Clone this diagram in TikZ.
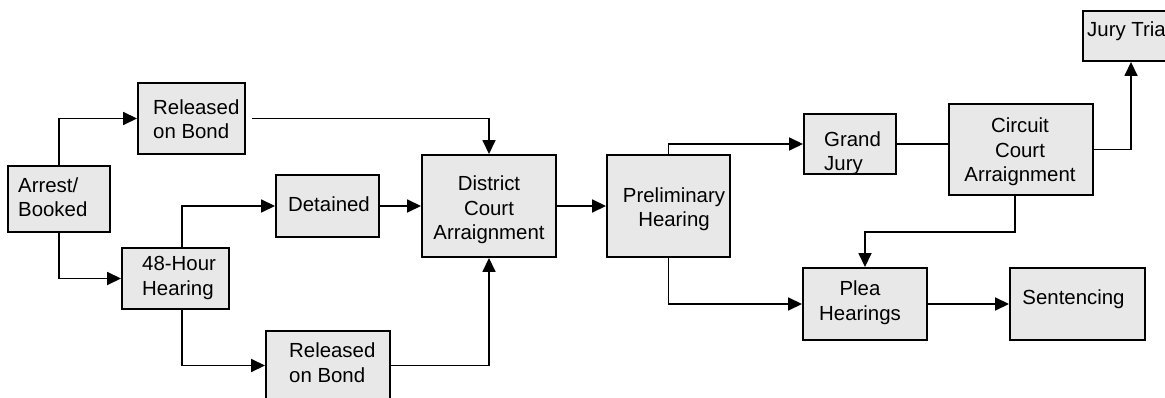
\documentclass[tikz,border=0pt]{standalone}
\usepackage{fontspec}
\setmainfont{Liberation Sans}
\usetikzlibrary{arrows.meta,calc}
\definecolor{boxgray}{RGB}{232,232,232}
\begin{document}
\begin{tikzpicture}[x=1pt,y=-1pt,
  box/.style={draw, line width=1.9pt, fill=boxgray, inner sep=0pt},
  txt/.style={font=\fontsize{20.4}{24.7}\selectfont, inner sep=0pt, align=left, anchor=base west},
  ctxt/.style={font=\fontsize{20.4}{24.7}\selectfont, inner sep=0pt, align=center, anchor=base},
  conn/.style={line width=1.6pt},
  arr/.style={conn, -{Triangle[length=14pt,width=13pt]}}]
\useasboundingbox (0,0) rectangle (1165,398);
% boxes
\node[box, minimum width=102pt, minimum height=66pt] (arrest) at (59,199) {};
\node[box, minimum width=107pt, minimum height=71pt] (relTop) at (191.5,118.5) {};
\node[box, minimum width=103pt, minimum height=62pt] (det) at (327.5,206) {};
\node[box, minimum width=107pt, minimum height=61pt] (h48) at (175.5,278.5) {};
\node[box, minimum width=124pt, minimum height=69pt] (relBot) at (328,365.5) {};
\node[box, minimum width=134pt, minimum height=102pt] (dist) at (489,206) {};
\node[box, minimum width=123pt, minimum height=102pt] (prelim) at (668.5,206) {};
\node[box, minimum width=92pt, minimum height=60pt] (gj) at (850,144) {};
\node[box, minimum width=144pt, minimum height=91pt] (circ) at (1021,149.5) {};
\node[box, minimum width=96pt, minimum height=50pt] (jury) at (1131,36) {};
\node[box, minimum width=124pt, minimum height=72pt] (plea) at (865,304) {};
\node[box, minimum width=135pt, minimum height=72pt] (sent) at (1077.5,304) {};
% texts (anchored at the baseline of the last line)
\node[txt] (tArrest) at (18,217) {Arrest/\\Booked};
\node[txt] (tRelTop) at (153,139) {Released\\on Bond};
\node[txt] (tH48) at (142,295) {48-Hour\\Hearing};
\node[txt] (tRelBot) at (289,382) {Released\\on Bond};
\node[ctxt] (tDet) at (329,212) {Detained};
\node[ctxt] (tDist) at (489,240) {District\\Court\\Arraignment};
\node[ctxt] (tPrelim) at (674,227) {Preliminary\\Hearing};
\node[txt] (tGj) at (824,171) {Grand\\Jury};
\node[ctxt] (tCirc) at (1020,182) {Circuit\\Court\\Arraignment};
\node[txt] (tJury) at (1087,37) {Jury Trial};
\node[ctxt] (tPlea) at (860,320) {Plea\\Hearings};
\node[ctxt] (tSent) at (1073.5,305) {Sentencing};
% helper coordinates
\coordinate (h48top) at (182,248);
\coordinate (h48bot) at (182,309);
\coordinate (circbot) at (1015,195);
% connectors
\draw[arr] (arrest.north) |- (relTop.west);
\draw[arr] (arrest.south) |- (h48.west);
\draw[arr] (h48top) |- (det.west);
\draw[arr] (h48bot) |- (relBot.west);
\draw[arr] (relBot.east) -| (dist.south);
\draw[arr] ([xshift=6pt]relTop.east) -| (dist.north);
\draw[arr] (det.east) -- (dist.west);
\draw[arr] (dist.east) -- (prelim.west);
\draw[arr] (prelim.north) |- (gj.west);
\draw[conn] (gj.east) -- (gj.east -| circ.west);
\draw[arr] (circ.east) -| (jury.south);
\draw[arr] (circbot) -- ++(0,37) -| (plea.north);
\draw[arr] (prelim.south) |- (plea.west);
\draw[arr] (plea.east) -- (sent.west);
\end{tikzpicture}
\end{document}
